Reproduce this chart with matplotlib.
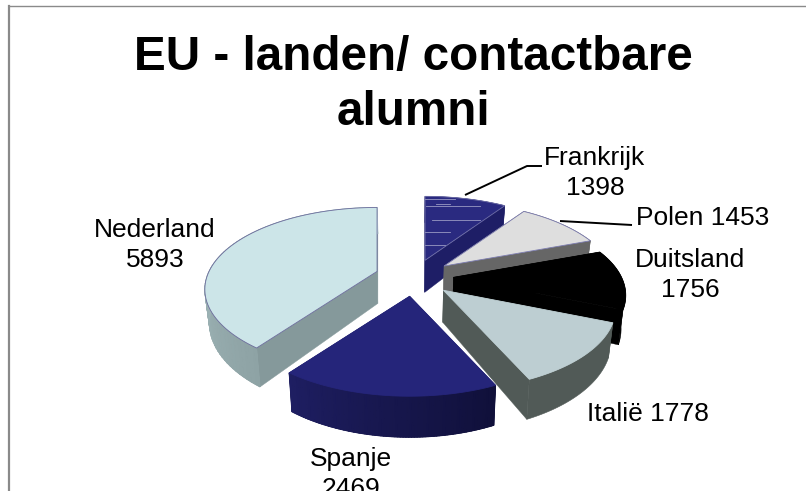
import numpy as np
import matplotlib
matplotlib.use("Agg")
import matplotlib.pyplot as plt
from matplotlib.patches import Polygon
from matplotlib.colors import LinearSegmentedColormap

categories = ["Frankrijk", "Polen", "Duitsland", "Italië", "Spanje", "Nederland"]
values = [1398, 1453, 1756, 1778, 2469, 5893]
title = "EU - landen/ contactbare\nalumni"

W, H = 806, 491
plt.rcParams['font.family'] = ['Liberation Sans', 'DejaVu Sans']
fig = plt.figure(figsize=(W / 100, H / 100), dpi=100)
ax = fig.add_axes([0, 0, 1, 1])
ax.set_xlim(0, W)
ax.set_ylim(H, 0)
ax.axis('off')

# projection of the tilted pie
CX, CY = 414, 277
SX, SY, P = 168, 78, 0.22
EXPL = 0.235
DEPTH = 32
SQUEEZE = 0.978


def project(a, r=1.0):
    u, v = r * np.sin(a), r * np.cos(a)
    w = 1 + P * v
    return SX * u / w, -SY * v / w, w


def top_pts(a, ox, oy, r=1.0):
    x, y, _ = project(a, r)
    return ox + x, oy + y


def bot_pts(a, ox, oy, r=1.0):
    x, y, w = project(a, r)
    return CX + (ox + x - CX) * SQUEEZE, oy + y + DEPTH / w


styles = {
    "Frankrijk": dict(top="#2a2a80", cut="#1e1e66", wall=("#1e1e66", "#1e1e66"), edge="#6f6fa8"),
    "Polen": dict(top="#dedede", cut="#666666", wall=("#666666", "#666666"), edge="#7c7cb0"),
    "Duitsland": dict(top="#000000", cut="#000000", wall=("#000000", "#000000"), edge="#000000"),
    "Italië": dict(top="#bdced2", cut="#515a57", wall=("#515a57", "#515a57"), edge=None),
    "Spanje": dict(top="#25257a", cut="#1c1c5e", wall=("#10103a", "#1e1e62"), edge=None),
    "Nederland": dict(top="#cce5e8", cut="#85999b", wall=("#8ea3a5", "#bcd4d6"), edge="#6c6c9c"),
}

fractions = np.array(values) / sum(values)
stops = np.concatenate([[0], np.cumsum(fractions)]) * 2 * np.pi
slices = {c: (stops[i], stops[i + 1]) for i, c in enumerate(categories)}
order = ["Frankrijk", "Polen", "Duitsland", "Nederland", "Spanje", "Italië"]

zo = 2
for name in order:
    a0, a1 = slices[name]
    st = styles[name]
    mid = (a0 + a1) / 2
    ex, ey, _ = project(mid, EXPL)
    ox, oy = CX + ex, CY + ey

    # cut faces
    for a in (a0, a1):
        tx, ty = top_pts(a, ox, oy)
        bx, by = bot_pts(a, ox, oy)
        apex_b = bot_pts(a, ox, oy, 0.0)
        ax.add_patch(Polygon([(ox, oy), (tx, ty), (bx, by), apex_b], closed=True,
                             fc=st["cut"], ec=st["cut"], lw=0.3, zorder=zo))
    zo += 1

    # outer wall, shaded smoothly along the arc
    ang = np.linspace(a0, a1, 80)
    xs, ys = top_pts(ang, ox, oy)
    xb, yb = bot_pts(ang, ox, oy)
    ax.add_patch(Polygon(np.vstack([np.column_stack([xs, ys]), np.column_stack([xb, yb])[::-1]]),
                         closed=True, fc=st["wall"][0], ec=st["wall"][0], lw=0.4, zorder=zo))
    zo += 1
    if st["wall"][0] != st["wall"][1]:
        cmap = LinearSegmentedColormap.from_list("wall_" + name, st["wall"])
        T = np.linspace(0, 1, len(ang))
        ax.pcolormesh(np.vstack([xs, xb]), np.vstack([ys, yb]), np.vstack([T, T]),
                      shading='gouraud', cmap=cmap, zorder=zo)
        zo += 1

    # top face
    face = Polygon(np.vstack([[ox, oy], np.column_stack([xs, ys])]), closed=True,
                   fc=st["top"], ec=st["edge"] or st["top"], lw=0.6, zorder=zo)
    ax.add_patch(face)
    zo += 1

    if name == "Frankrijk":
        # pale streaks across the face
        for yy, x0, x1 in [(199, 425, 455), (204, 436, 450), (206, 426, 480), (220, 432, 480),
                           (232, 425, 450), (245, 425, 445)]:
            ln, = ax.plot([x0, x1], [yy, yy], color="#9a9ac4", lw=0.6, zorder=zo)
            ln.set_clip_path(face)
        zo += 1

ax.set_xlim(0, W)
ax.set_ylim(H, 0)

# leader lines
ax.plot([465, 527, 542], [195, 166, 166], color="black", lw=1.4, zorder=zo, solid_capstyle='butt')
ax.plot([560, 632], [221, 225], color="black", lw=1.4, zorder=zo, solid_capstyle='butt')

# chart-area border
ax.plot([9, 9], [H, 5.5], color="#8a8a8a", lw=1.6, zorder=zo)
ax.plot([9, W], [5.5, 5.5], color="#8a8a8a", lw=1.0, zorder=zo)

LABEL_FS = 19
labels = [
    (categories[0] + "\n" + str(values[0]), 595, 173),
    (categories[1] + " " + str(values[1]), 703, 218),
    (categories[2] + "\n" + str(values[2]), 690, 275),
    (categories[3] + " " + str(values[3]), 648, 414),
    (categories[4] + "\n" + str(values[4]), 351, 474),
    (categories[5] + "\n" + str(values[5]), 155, 245),
]
for txt, x, y in labels:
    ax.text(x, y, txt, ha='center', va='center', fontsize=LABEL_FS, color='black',
            linespacing=1.34, zorder=zo + 1, clip_on=False)

ax.text(413, 85, title, ha='center', va='center', fontsize=34.3, fontweight='bold',
        color='black', linespacing=1.27, zorder=zo + 1)

fig.savefig("out.png", dpi=100)
